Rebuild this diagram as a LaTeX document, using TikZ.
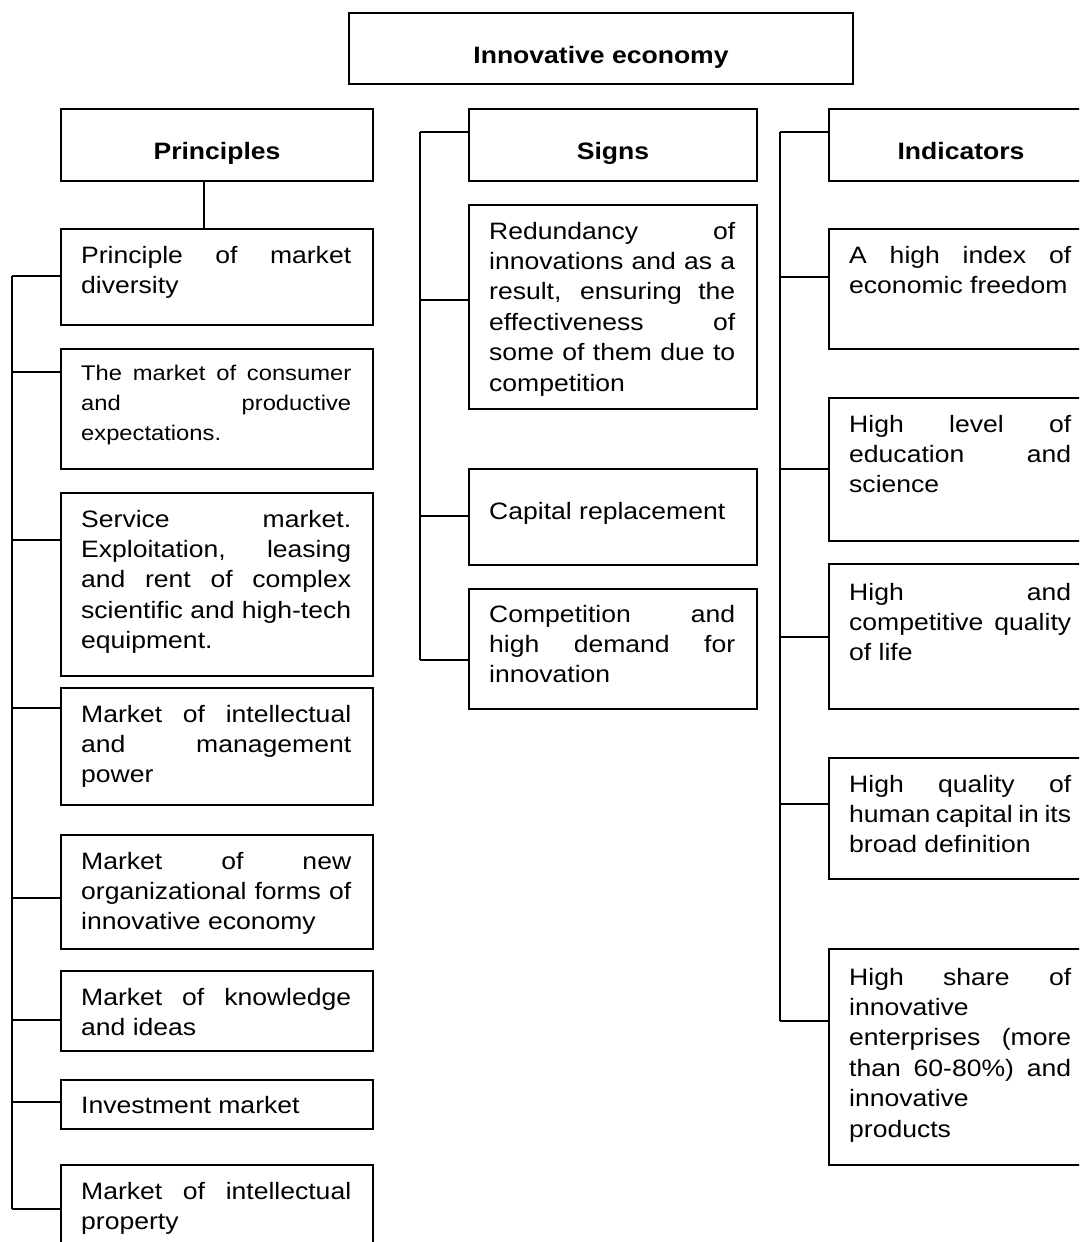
\documentclass[tikz,border=0pt]{standalone}
\usepackage{fontspec}
\setmainfont{Liberation Sans}[FakeStretch=1.12]
\newcommand{\boxspacing}{\spaceskip=\fontdimen2\font plus 1\fontdimen2\font minus .4\fontdimen2\font\relax
  \hyphenpenalty=10000 \exhyphenpenalty=10000 \tolerance=10000 }
\newcommand{\boxtext}{\fontsize{23.7}{30.4}\selectfont\boxspacing}
\newcommand{\smalltext}{\fontsize{21.2}{28.3}\selectfont\boxspacing}

\begin{document}
\begin{tikzpicture}[x=1pt,y=-1pt,
  box/.style={draw,line width=2pt,inner sep=0pt,anchor=north west},
  txt/.style={anchor=base west,inner sep=0pt,align=justify,font=\boxtext},
  hdr/.style={anchor=base,inner sep=0pt,font=\boxtext\bfseries},
  link/.style={line width=1.4pt}]

\useasboundingbox (0,0) rectangle (1079,1242);
\clip (0,0) rectangle (1079,1242);

% The top box
\node[box,minimum width=504pt,minimum height=71pt] (top) at (348,12) {};
\node[hdr] (top-x) at ([shift={(0,51)}]top.north) {Innovative economy};

% Principles column
\node[box,minimum width=312pt,minimum height=72pt] (pr) at (60,108) {};
\node[hdr] (pr-x) at ([shift={(0,51)}]pr.north) {Principles};
\foreach \nm/\yt/\yb/\yk/\off/\txt in {
  pa/228/324/276/35/{Principle of market\linebreak diversity},
  pb/348/468/372/32/{\smalltext The market of consumer\linebreak and productive\linebreak expectations.},
  pc/492/675/540/35/{Service market.\linebreak Exploitation, leasing\linebreak and rent of complex\linebreak scientific and high-tech\linebreak equipment.},
  pd/687/804/708/35/{Market of intellectual\linebreak and management\linebreak power},
  pe/834/948/898/35/{Market of new\linebreak organizational forms of\linebreak innovative economy},
  pf/970/1050/1020/35/{Market of knowledge\linebreak and ideas},
  pg/1079/1128/1102/34/{Investment market},
  ph/1164/1270/1209/35/{Market of intellectual\linebreak property}} {
  \node[box,minimum width=312pt,minimum height={(\yb-\yt)*1pt}] (\nm) at (60,\yt) {};
  \node[txt,text width=270pt] (\nm-x) at ([shift={(21,\off)}]\nm.north west) {\txt};
  \coordinate (\nm-s) at (12,\yk);
  \draw[link] (\nm-s) -- (\nm-s -| \nm.west);
}
\coordinate (pdrop) at (204,0);
\draw[link] (pr.south -| pdrop) -- (pa.north -| pdrop);
\draw[link] (pa-s) -- (ph-s);

% Signs column
\node[box,minimum width=288pt,minimum height=72pt] (sg) at (468,108) {};
\node[hdr] (sg-x) at ([shift={(0,51)}]sg.north) {Signs};
\coordinate (sg-s) at (420,132);
\draw[link] (sg-s) -- (sg-s -| sg.west);
\foreach \nm/\yt/\yb/\yk/\off/\txt in {
  sa/204/408/300/35/{Redundancy of\linebreak innovations and as a\linebreak result, ensuring the\linebreak effectiveness of\linebreak some of them due to\linebreak competition},
  sb/468/564/516/51/{Capital replacement},
  sc/588/708/660/34/{Competition and\linebreak high demand for\linebreak innovation}} {
  \node[box,minimum width=288pt,minimum height={(\yb-\yt)*1pt}] (\nm) at (468,\yt) {};
  \node[txt,text width=246pt] (\nm-x) at ([shift={(21,\off)}]\nm.north west) {\txt};
  \coordinate (\nm-s) at (420,\yk);
  \draw[link] (\nm-s) -- (\nm-s -| \nm.west);
}
\draw[link] (sg-s) -- (sc-s);

% Indicators column
\node[box,minimum width=264pt,minimum height=72pt] (in) at (828,108) {};
\node[hdr] (in-x) at ([shift={(0,51)}]in.north) {Indicators};
\coordinate (in-s) at (780,132);
\draw[link] (in-s) -- (in-s -| in.west);
\foreach \nm/\yt/\yb/\yk/\off/\txt in {
  ia/228/348/277/35/{A high index of\linebreak economic freedom},
  ib/397/540/469/35/{High level of\linebreak education and\linebreak science},
  ic/563/708/637/37/{High and\linebreak competitive quality\linebreak of life},
  id/757/878/804/35/{High quality of\linebreak human capital in its\linebreak broad definition},
  ie/948/1164/1021/37/{High share of\linebreak innovative\newline enterprises (more\linebreak than 60-80\%) and\linebreak innovative\newline products}} {
  \node[box,minimum width=264pt,minimum height={(\yb-\yt)*1pt}] (\nm) at (828,\yt) {};
  \node[txt,text width=222pt] (\nm-x) at ([shift={(21,\off)}]\nm.north west) {\txt};
  \coordinate (\nm-s) at (780,\yk);
  \draw[link] (\nm-s) -- (\nm-s -| \nm.west);
}
\draw[link] (in-s) -- (ie-s);
\end{tikzpicture}
\end{document}
